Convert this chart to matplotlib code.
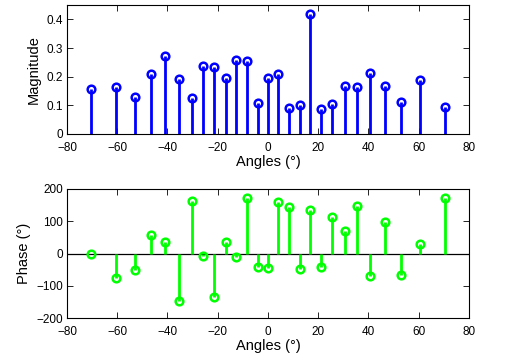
import numpy as np
import matplotlib
matplotlib.use('Agg')
import matplotlib.pyplot as plt

plt.rcParams['font.family'] = ['Liberation Sans', 'DejaVu Sans']

# angles of the peaks (deg)
angles = [-70.6, -60.6, -53.0, -46.6, -40.9, -35.6, -30.4, -25.8, -21.4, -16.9,
          -12.6, -8.4, -4.1, 0.0, 4.1, 8.2, 12.6, 16.9, 21.1, 25.6,
          30.6, 35.5, 40.8, 46.5, 52.9, 60.6, 70.6]

magnitude = [0.158, 0.164, 0.128, 0.210, 0.271, 0.192, 0.125, 0.239, 0.233, 0.196,
             0.258, 0.254, 0.109, 0.196, 0.210, 0.091, 0.101, 0.418, 0.087, 0.103,
             0.168, 0.163, 0.213, 0.166, 0.111, 0.187, 0.094]

phase = [0, -77, -51, 56, 37, -146, 162, -7, -135, 36,
         -11, 171, -43, -45, 161, 144, -48, 135, -43, 112,
         70, 147, -71, 99, -67, 31, 171]

fig = plt.figure(figsize=(5.17, 3.64), dpi=100)
ax1 = fig.add_axes([0.1296, 0.632, 0.7774, 0.354])
ax2 = fig.add_axes([0.1296, 0.126, 0.7774, 0.355])

def stemPlot(ax, x, y, col):
    ml, sl, bl = ax.stem(x, y, linefmt='-', markerfmt='o', basefmt=' ')
    plt.setp(sl, color=col, linewidth=2)
    plt.setp(ml, color=col, markerfacecolor='none', markersize=5.5, markeredgewidth=1.8)

stemPlot(ax1, angles, magnitude, (0, 0, 1))
ax1.set_xlim(-80, 80)
ax1.set_ylim(0, 0.45)
ax1.set_yticks([0, 0.1, 0.2, 0.3, 0.4])
ax1.set_yticklabels(['0', '0.1', '0.2', '0.3', '0.4'])
ax1.set_ylabel('Magnitude', fontsize=10.5)
ax1.set_xlabel('Angles (°)', fontsize=10.5, labelpad=1)

ax2.axhline(0, color='k', linewidth=0.9, zorder=1)
stemPlot(ax2, angles, phase, (0, 1, 0))
ax2.set_xlim(-80, 80)
ax2.set_ylim(-200, 200)
ax2.set_yticks([-200, -100, 0, 100, 200])
ax2.set_ylabel('Phase (°)', fontsize=10.5)
ax2.set_xlabel('Angles (°)', fontsize=10.5, labelpad=1)

for ax in (ax1, ax2):
    ax.set_xticks(np.arange(-80, 81, 20))
    ax.tick_params(direction='in', top=True, right=True, length=4, width=0.6,
                   labelsize=8.5, pad=3)
    ax.tick_params(axis='x', pad=5.5)
    for s in ax.spines.values():
        s.set_linewidth(0.8)

fig.savefig('out.png', dpi=100)
